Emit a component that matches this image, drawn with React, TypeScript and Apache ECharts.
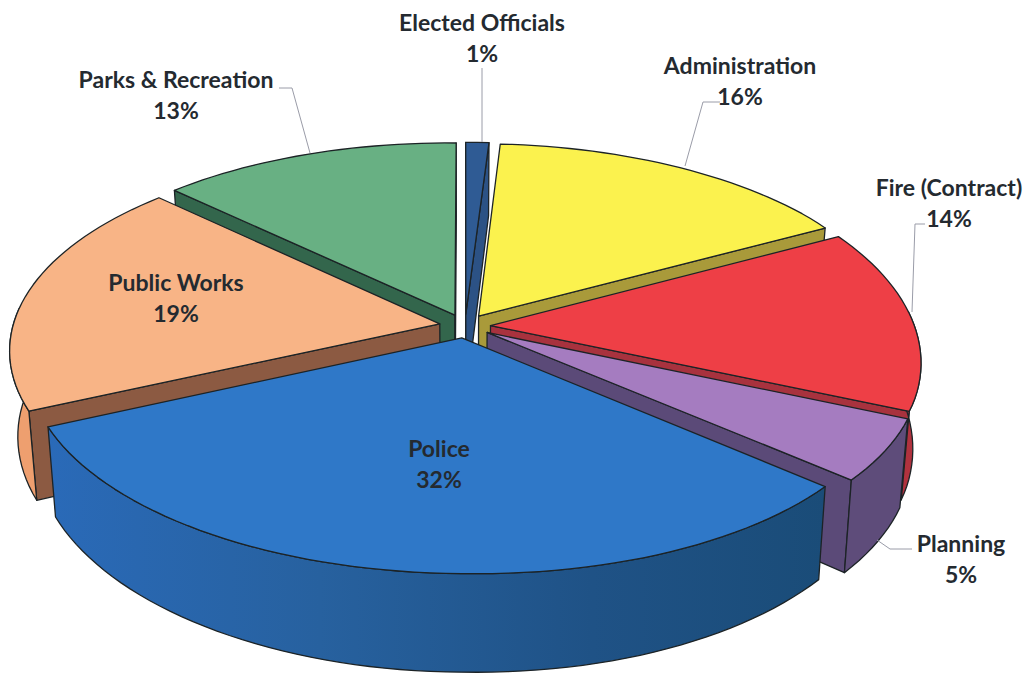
import React, { useEffect, useRef } from "react";
import * as echarts from "echarts";

// Budget share by department, clockwise from twelve o'clock.
const departments = ["Elected Officials", "Administration", "Fire (Contract)", "Planning", "Police", "Public Works", "Parks & Recreation"];
const shares = [1, 16, 14, 5, 32, 19, 13];

const topColors = ["#2f5b94", "#fbf24e", "#ee3f46", "#a57cc0", "#2f78c8", "#f8b486", "#68b083"];
const cutColors = ["#2c5285", "#a99a3a", "#a8323e", "#5b4a78", "#1d4f85", "#8c5a42", "#33664c"];
const rimColors = ["#2c5285", "#a99a3a", "#b0323e", "#5e4c7a", "#22548f", "#ee9f6f", "#33664c"];

// Back-to-front paint order of the slices.
const paintOrder = [6, 0, 1, 2, 5, 3, 4];

// Projection of the tilted disc.
const CX = 465;
const CY = 326;
const RX = 426;
const RY = 199;
const PERSPECTIVE = 0.14;
const DEPTH = 84;
const BASE_SHRINK = 0.982;
const EXPLODE = 0.06;
const TILT_RIGHT = 9;
const TILT_LEFT = 3;

const labelLayout = [
  { x: 482, y: 37, leader: [[482, 68], [482, 142]] },
  { x: 740, y: 80, leader: [[720, 102], [703, 102], [685, 166]] },
  { x: 949, y: 202, leader: [[925, 224], [915, 224], [912, 312]] },
  { x: 961, y: 558, leader: [[912, 549], [890, 549], [877, 540]] },
  { x: 439, y: 463, leader: null },
  { x: 176, y: 297, leader: null },
  { x: 176, y: 94, leader: [[279, 88], [292, 88], [310, 153]] },
];

const total = shares.reduce((a, b) => a + b, 0);
const startAngles: number[] = [];
shares.reduce((acc, v, i) => {
  startAngles[i] = acc;
  return acc + v;
}, 0);
const toRad = (share: number) => (share / total) * Math.PI * 2;

type World = [number, number];
const circle = (theta: number): World => [Math.sin(theta), -Math.cos(theta)];

const project = ([x, y]: World, bottom: boolean): number[] => {
  const f = 1 / (1 - PERSPECTIVE * y);
  const k = bottom ? BASE_SHRINK : 1;
  // The disc sags a little towards the front right.
  const sag = Math.min(1, Math.max(0, (y + 0.6) / 0.9));
  const tilt = x > 0 ? TILT_RIGHT * x * sag : TILT_LEFT * x;
  return [CX + RX * x * f * k, CY + tilt + RY * y * f + (bottom ? DEPTH * f : 0)];
};

const renderSlice = (params: any, api: any) => {
  const i = params.dataIndex;
  const value = api.value(0);
  const rank = paintOrder.indexOf(i);
  const a0 = toRad(startAngles[i]);
  const a1 = a0 + toRad(value);
  const mid = (a0 + a1) / 2;
  const off = circle(mid);
  const tip: World = [off[0] * EXPLODE, off[1] * EXPLODE];
  const rim = (t: number): World => {
    const c = circle(t);
    return [tip[0] + c[0], tip[1] + c[1]];
  };

  const steps = Math.max(2, Math.ceil(value * 2));
  const arc: World[] = [];
  for (let s = 0; s <= steps; s++) arc.push(rim(a0 + ((a1 - a0) * s) / steps));

  const edge = { stroke: "#1c2326", lineWidth: 1.3, lineJoin: "round" };
  const children: any[] = [];
  const base = rank * 10;

  // Cut faces between neighbouring slices, kept only when they face the viewer.
  const camera: World = [0, 1 / PERSPECTIVE];
  const cutFace = (t: number, normal: number, z: number) => {
    const n = circle(normal);
    const r = rim(t);
    const mx = (tip[0] + r[0]) / 2;
    const my = (tip[1] + r[1]) / 2;
    if (n[0] * (camera[0] - mx) + n[1] * (camera[1] - my) <= 0) return;
    children.push({
      type: "polygon",
      z2: base + z,
      shape: { points: [project(tip, false), project(r, false), project(r, true), project(tip, true)] },
      style: { fill: cutColors[i], ...edge },
    });
  };
  cutFace(a0, a0 - Math.PI / 2, 1);
  cutFace(a1, a1 + Math.PI / 2, 1);

  // Outer wall, the part nearer the viewer; the top face hides whatever lies behind it.
  const front = arc.filter((p) => p[1] > -0.1);
  if (front.length > 1) {
    const pts = [...front.map((p) => project(p, false)), ...[...front].reverse().map((p) => project(p, true))];
    const fill =
      i === 4
        ? new echarts.graphic.LinearGradient(0, 0, 1, 0, [
            { offset: 0, color: "#2a6ab8" },
            { offset: 0.35, color: "#27619f" },
            { offset: 0.7, color: "#1f5286" },
            { offset: 1, color: "#1a4c78" },
          ])
        : rimColors[i];
    children.push({ type: "polygon", z2: base + 2, shape: { points: pts }, style: { fill, ...edge } });
  }

  // Top face.
  children.push({
    type: "polygon",
    z2: base + 3,
    shape: { points: [project(tip, false), ...arc.map((p) => project(p, false))] },
    style: { fill: topColors[i], ...edge },
  });

  // Leader line and label.
  const label = labelLayout[i];
  if (label.leader) {
    children.push({
      type: "polyline",
      z2: 200,
      shape: { points: label.leader },
      style: { fill: "none", stroke: "#9a9ca8", lineWidth: 1 },
    });
  }
  children.push({
    type: "text",
    z2: 210,
    style: {
      text: `${departments[i]}\n${value}%`,
      x: label.x,
      y: label.y,
      align: "center",
      verticalAlign: "middle",
      font: "bold 23px Lato",
      lineHeight: 31,
      fill: "#242a30",
    },
  });
  return { type: "group", children };
};

export default function App() {
  const ref = useRef<HTMLDivElement>(null);
  useEffect(() => {
    const chart = echarts.init(ref.current, undefined, { renderer: "svg" });
    chart.setOption({
      animation: false,
      backgroundColor: "#ffffff",
      series: [
        {
          type: "custom",
          coordinateSystem: "none",
          renderItem: renderSlice,
          data: shares.map((v) => [v]),
          silent: true,
        },
      ],
    });
    return () => chart.dispose();
  }, []);
  return <div ref={ref} style={{ position: "absolute", left: 0, top: 0, width: 1028, height: 675 }} />;
}
